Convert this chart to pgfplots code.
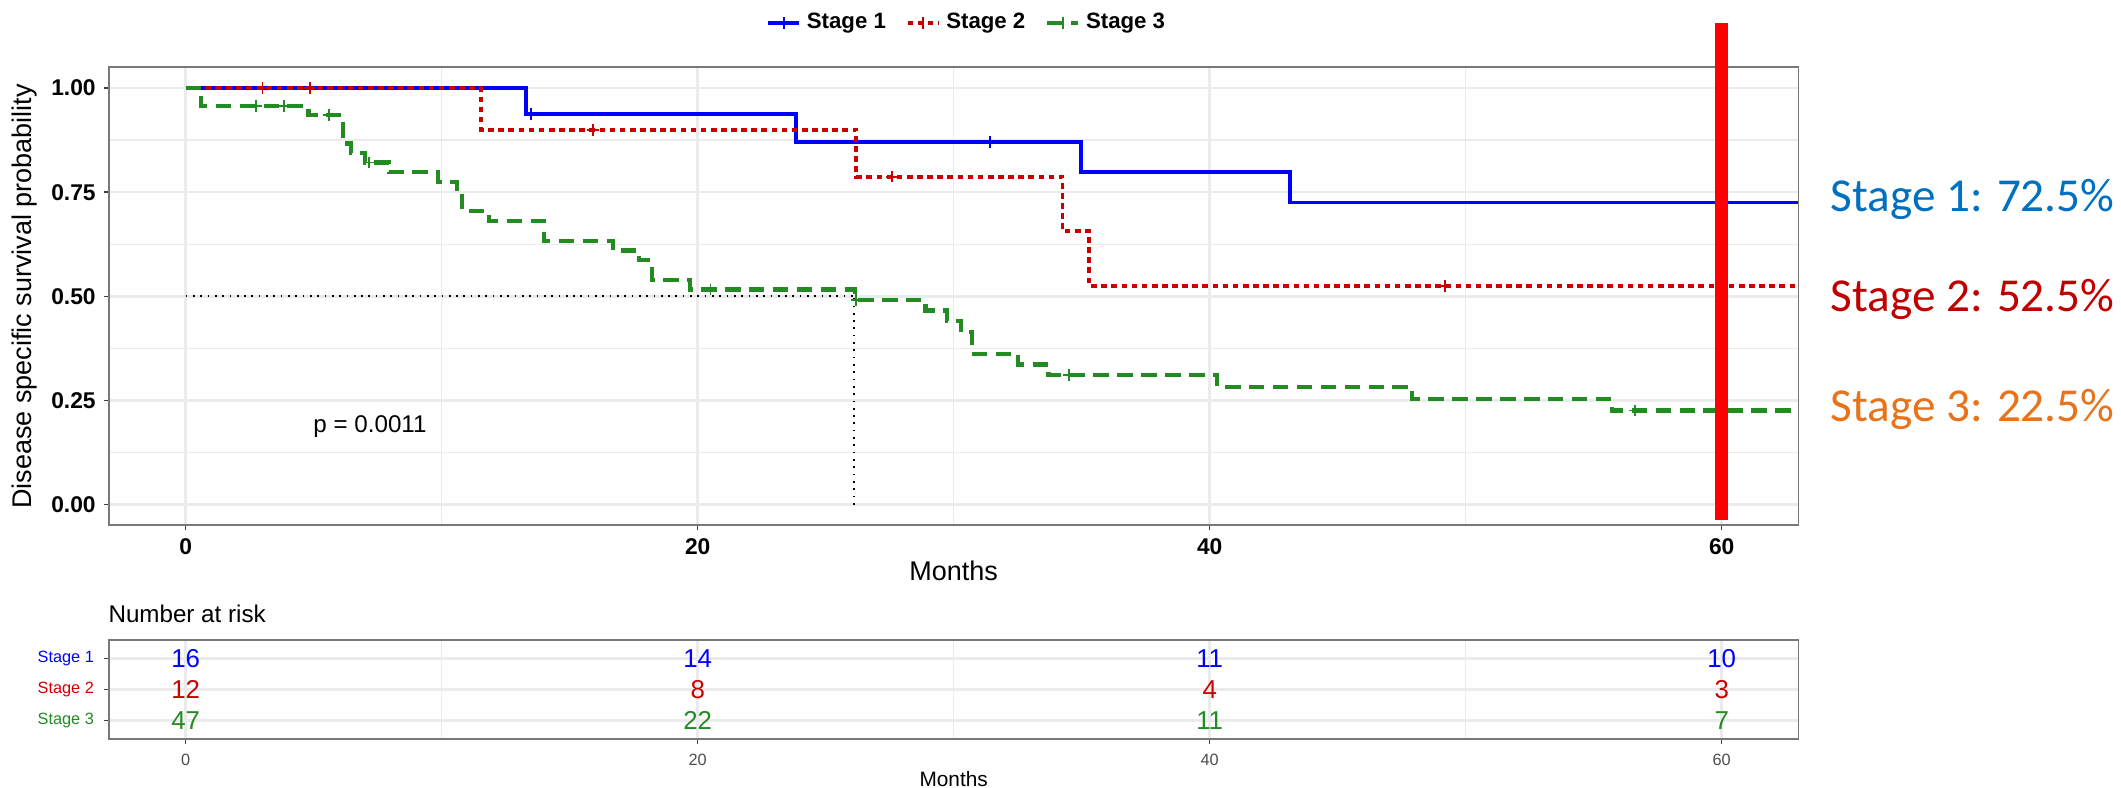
\documentclass[border=0pt]{standalone}
\usepackage{pgfplots}
\pgfplotsset{compat=1.18}
\usepackage{fontspec}
\setmainfont{Liberation Sans}
\newfontfamily\calibri{Carlito}
\definecolor{cblue}{RGB}{0,0,255}
\definecolor{cred}{RGB}{205,0,0}
\definecolor{cgreen}{RGB}{34,139,34}
\definecolor{gridc}{RGB}{235,235,235}
\definecolor{bord}{RGB}{120,120,120}
\definecolor{tone}{RGB}{0,112,192}
\definecolor{ttwo}{RGB}{192,0,0}
\definecolor{tthree}{RGB}{232,115,26}
\newcommand{\fs}[1]{\fontsize{#1}{#1}\selectfont}
\pgfplotsset{
  kmstyle/.style={
    scale only axis, clip=false,
    xmin=-3, xmax=63,
    xtick={0,20,40,60}, minor xtick={10,30,50},
    grid=both,
    major grid style={gridc, line width=0.9pt},
    minor grid style={gridc, line width=0.45pt},
    axis line style={bord, line width=0.7pt},
    tick style={black!75, line width=0.5pt},
    major tick length=1.8pt, minor tick length=0pt,
    tick align=outside, tickpos=left,
    /pgf/number format/assume math mode=true,
  },
  keyimg/.style={legend image code/.code={
      \draw[##1] (0cm,0cm) -- (0.39cm,0cm);
      \draw[##1, solid, line width=0.7pt] (0.195cm,-0.075cm) -- (0.195cm,0.075cm);}},
}
\begin{document}
\begin{tikzpicture}
\useasboundingbox (0,0) rectangle (26.5125cm,9.8375cm);
% ---------------- main survival plot ----------------
\begin{axis}[kmstyle,
  at={(1.3613cm,3.27cm)}, anchor=south west,
  width=21.12cm, height=5.7275cm,
  ymin=-0.05, ymax=1.05,
  ytick={0,0.25,0.5,0.75,1}, yticklabels={0.00,0.25,0.50,0.75,1.00},
  minor ytick={0.125,0.375,0.625,0.875},
  ticklabel style={font=\bfseries\fs{8.1}},
  xticklabel shift=-0.8pt, yticklabel shift=-0.6pt,
  xlabel={Months}, xlabel style={font=\fs{9.6}, at={(axis description cs:0.5,-0.0995)}, anchor=center},
  ylabel={Disease specific survival probability},
  ylabel style={font=\fs{9.6}, at={(axis description cs:-0.04995,0.5)}, anchor=center},
  legend columns=3,
  legend style={at={(0.5088,1.0965)}, anchor=center, draw=none, fill=none,
    font=\bfseries\fs{7.9}, inner sep=0pt,
    /tikz/every even column/.append style={column sep=5pt}},
]
% median lines
\addplot[black, line width=0.6pt, dotted, forget plot] coordinates {(0,0.5) (26.1,0.5)};
\addplot[black, line width=0.6pt, dotted, forget plot] coordinates {(26.1,0) (26.1,0.5)};
% Stage 1
\addplot[cblue, line width=1.3pt, const plot, keyimg] coordinates {
 (0,1) (13.3,0.9375) (23.84,0.8705) (34.97,0.7980) (43.14,0.7254) (63,0.7254)};
\addlegendentry{Stage 1}
\addplot[only marks, cblue, mark=+, mark size=2.1pt, mark options={solid, line width=0.7pt}, forget plot]
 coordinates {(13.5,0.9375) (31.4,0.8705)};
% Stage 2
\addplot[cred, line width=1.4pt, dash pattern=on 2pt off 1.6pt, const plot, keyimg] coordinates {
 (0,1) (11.53,0.9) (26.2,0.7875) (34.25,0.6563) (35.3,0.525) (63,0.525)};
\addlegendentry{Stage 2}
\addplot[only marks, cred, mark=+, mark size=2.1pt, mark options={solid, line width=0.7pt}, forget plot]
 coordinates {(3.0,1) (4.85,1) (15.9,0.9) (27.6,0.7875) (49.2,0.525)};
% Stage 3
\addplot[cgreen, line width=1.5pt, dash pattern=on 5.5pt off 3pt, const plot, keyimg] coordinates {
 (0,1) (0.61,0.9574) (4.8,0.9352) (6.14,0.8668) (6.45,0.8440) (7.0,0.8212) (7.93,0.7977)
 (9.86,0.7742) (10.6,0.7508) (10.8,0.7039) (11.85,0.6804) (14.0,0.6335) (16.7,0.6100)
 (17.7,0.5866) (18.2,0.5397) (19.7,0.5162) (26.15,0.4916) (28.9,0.4657) (29.75,0.4399)
 (30.3,0.4140) (30.7,0.3623) (32.5,0.3364) (33.7,0.3105) (40.3,0.2823) (47.9,0.2541)
 (55.7,0.2258) (63,0.2258)};
\addlegendentry{Stage 3}
\addplot[only marks, cgreen, mark=+, mark size=2.1pt, mark options={solid, line width=0.7pt}, forget plot]
 coordinates {(2.74,0.9574) (3.84,0.9574) (5.58,0.9352) (7.15,0.8212) (20.5,0.5162) (26.2,0.4916) (34.5,0.3105) (56.6,0.2258)};
% 60-month marker
\addplot[red, line width=4.6pt, forget plot] coordinates {(60,-0.037) (60,1.156)};
\node[font=\fs{8.6}, anchor=base, inner sep=0pt] at (axis cs:7.2,0.172) {p = 0.0011};
\end{axis}
% ---------------- annotations ----------------
\node[font=\calibri\fs{16.8}, text=tone, anchor=base west, inner sep=0pt] at (22.875cm,7.191cm) {Stage 1: 72.5\%};
\node[font=\calibri\fs{16.8}, text=ttwo, anchor=base west, inner sep=0pt] at (22.875cm,5.941cm) {Stage 2: 52.5\%};
\node[font=\calibri\fs{16.8}, text=tthree, anchor=base west, inner sep=0pt] at (22.875cm,4.566cm) {Stage 3: 22.5\%};
\node[font=\fs{8.6}, anchor=base west, inner sep=0pt] at (1.35cm,2.05cm) {Number at risk};
% ---------------- risk table ----------------
\begin{axis}[kmstyle,
  at={(1.3613cm,0.6cm)}, anchor=south west,
  width=21.12cm, height=1.2375cm,
  ymin=0.4, ymax=3.6,
  ytick={1,2,3}, yticklabels={\textcolor{cgreen}{Stage 3},\textcolor{cred}{Stage 2},\textcolor{cblue}{Stage 1}},
  ymajorgrids, yminorgrids=false,
  ticklabel style={font=\fs{5.8}},
  xticklabel style={text=black!70},
  xlabel={Months}, xlabel style={font=\fs{7.4}, inner sep=0pt, at={(axis description cs:0.5,-0.40)}, anchor=center},
  nodes near coords={\pgfplotspointmeta}, point meta=explicit symbolic,
  every node near coord/.append style={font=\fs{9.2}, anchor=center, inner sep=0pt},
]
\addplot[draw=none, mark=none, every node near coord/.append style={text=cblue}] coordinates {(0,3) [16] (20,3) [14] (40,3) [11] (60,3) [10]};
\addplot[draw=none, mark=none, every node near coord/.append style={text=cred}] coordinates {(0,2) [12] (20,2) [8] (40,2) [4] (60,2) [3]};
\addplot[draw=none, mark=none, every node near coord/.append style={text=cgreen}] coordinates {(0,1) [47] (20,1) [22] (40,1) [11] (60,1) [7]};
\end{axis}
\end{tikzpicture}
\end{document}
